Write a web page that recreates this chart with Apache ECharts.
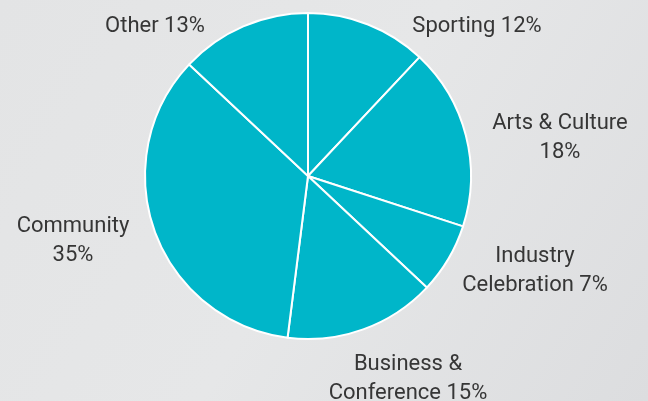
<!DOCTYPE html>
<html>
<head>
<meta charset="utf-8">
<script src="https://cdn.jsdelivr.net/npm/echarts@6/dist/echarts.min.js"></script>
<style>
html,body{margin:0;padding:0;}
#c{width:648px;height:401px;}
</style>
</head>
<body>
<div id="c"></div>
<script>
var categories = ['Sporting', 'Arts & Culture', 'Industry Celebration', 'Business & Conference', 'Community', 'Other'];
var values = [12, 18, 7, 15, 35, 13];
var labelTexts = ['Sporting 12%', 'Arts & Culture\n18%', 'Industry\nCelebration 7%', 'Business &\nConference 15%', 'Community\n35%', 'Other 13%'];

var labelPos = [[477, 26], [560, 138], [535, 271], [408, 379], [73, 241], [155, 26]];

var chart = echarts.init(document.getElementById('c'));
chart.setOption({
  backgroundColor: {
    type: 'linear', x: 0, y: 0, x2: 1, y2: 1,
    colorStops: [
      {offset: 0, color: '#e3e4e5'},
      {offset: 0.5, color: '#e6e7e8'},
      {offset: 1, color: '#dcdddf'}
    ]
  },
  animation: false,
  series: [{
    type: 'pie',
    center: [308, 176],
    radius: [0, 163],
    startAngle: 90,
    clockwise: true,
    data: categories.map(function (c, i) {
      return {name: c, value: values[i]};
    }),
    itemStyle: {color: '#00b6c9', borderColor: '#ffffff', borderWidth: 2},
    label: {
      show: true,
      position: 'outside',
      formatter: function (p) { return labelTexts[p.dataIndex]; },
      color: '#363636',
      fontFamily: 'Roboto',
      fontSize: 22,
      lineHeight: 29,
      align: 'center',
      overflow: 'none',
      width: 300
    },
    labelLine: {show: false},
    labelLayout: function (p) {
      var pos = labelPos[p.dataIndex];
      return {x: pos[0], y: pos[1], align: 'center', verticalAlign: 'middle'};
    },
    emphasis: {disabled: true}
  }]
});
</script>
</body>
</html>
